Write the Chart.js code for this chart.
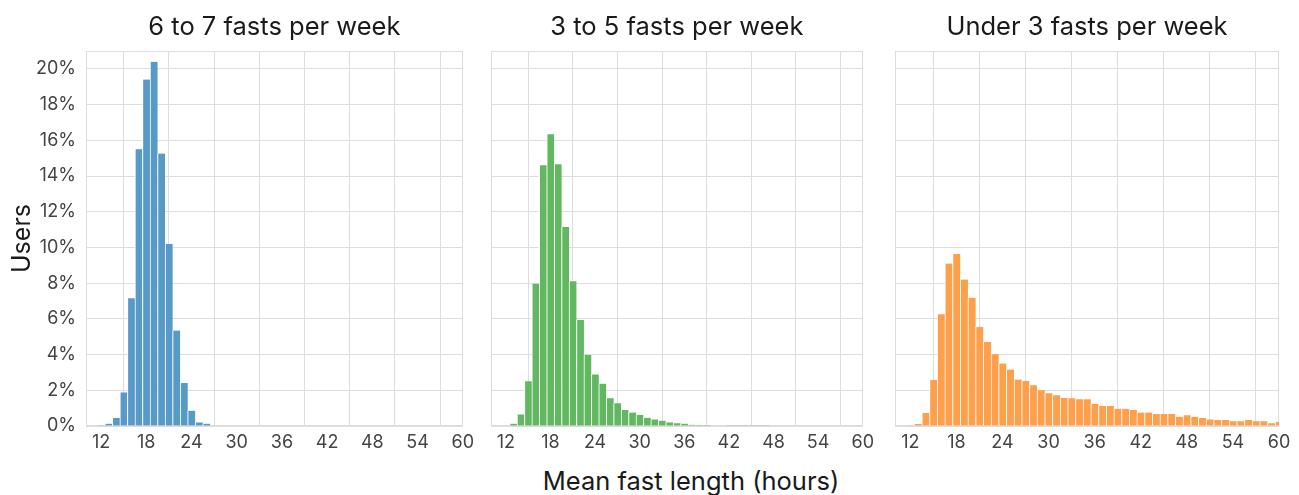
<!DOCTYPE html>
<html><head><meta charset="utf-8">
<script src="https://cdn.jsdelivr.net/npm/chart.js@4.4.1/dist/chart.umd.min.js"></script>
<style>
html,body{margin:0;padding:0;background:#fff;}
body{width:1299px;height:495px;position:relative;overflow:hidden;font-family:Inter,"Noto Sans",sans-serif;}
canvas{position:absolute;top:0;}
#xt{position:absolute;left:441px;width:500px;top:466px;text-align:center;font-size:25.5px;line-height:30px;color:#1a1a1a;}
</style></head>
<body>
<canvas id="c1" width="480" height="462" style="left:0px"></canvas>
<canvas id="c2" width="400" height="462" style="left:480px"></canvas>
<canvas id="c3" width="415" height="462" style="left:884px"></canvas>
<div id="xt">Mean fast length (hours)</div>
<script>
// Bin centres (hours)
const hours = [12,13,14,15,16,17,18,19,20,21,22,23,24,25,26,27,28,29,30,31,32,33,34,35,36,37,38,39,40,41,42,43,44,45,46,47,48,49,50,51,52,53,54,55,56,57,58,59,60];
// Share of users (%) per bin
const sixToSeven = [0.02,0.13,0.45,1.88,7.16,15.5,19.4,20.4,15.26,10.19,5.35,2.41,0.86,0.2,0.13,0.03,0,0,0,0,0,0,0,0,0,0,0,0,0,0,0,0,0,0,0,0,0,0,0,0,0,0,0,0,0,0,0,0,0];
const threeToFive = [0,0.13,0.65,2.5,7.97,14.6,16.34,14.66,11.14,8.1,5.93,3.97,2.89,2.37,1.55,1.27,0.9,0.75,0.63,0.46,0.37,0.3,0.2,0.15,0.13,0.07,0.06,0.05,0.03,0.03,0.02,0.02,0.02,0.01,0.01,0.01,0,0,0,0,0,0,0,0,0,0,0,0,0];
const underThree = [0.04,0.11,0.73,2.58,6.26,9.1,9.63,8.2,7.18,5.55,4.71,4.02,3.5,3.16,2.6,2.52,2.28,2.0,1.83,1.72,1.57,1.55,1.5,1.5,1.23,1.12,1.12,0.97,0.97,0.9,0.75,0.75,0.67,0.67,0.67,0.52,0.6,0.52,0.45,0.37,0.34,0.34,0.26,0.26,0.34,0.26,0.26,0.15,0.22];
const titles = ["6 to 7 fasts per week","3 to 5 fasts per week","Under 3 fasts per week"];
const xTicks = [12,18,24,30,36,42,48,54,60];
const yTicks = [0,2,4,6,8,10,12,14,16,18,20];

const GRID = '#dddddd';
const frame = {
  id:'frame',
  beforeDatasetsDraw(chart){
    const a = chart.chartArea, ctx = chart.ctx;
    ctx.save(); ctx.strokeStyle = GRID; ctx.lineWidth = 1;
    ctx.strokeRect(Math.round(a.left)+0.5, Math.round(a.top)+0.5, Math.round(a.right-a.left)-1, Math.round(a.bottom-a.top)-1);
    ctx.restore();
  }
};

function make(id, values, color, title, showY, yWidth, padRight){
  return new Chart(document.getElementById(id), {
    type:'bar',
    data:{datasets:[{
      data: hours.map((h,i)=>({x:h,y:values[i]})),
      backgroundColor: color,
      borderColor:'#ffffff',
      borderWidth:{left:1,right:0,top:0,bottom:0},
      borderSkipped:false,
      barPercentage:1, categoryPercentage:1
    }]},
    options:{
      responsive:false, animation:false, devicePixelRatio:1,
      layout:{padding:{left:0,right:padRight,top:0,bottom:0}},
      plugins:{
        legend:{display:false}, tooltip:{enabled:false},
        title:{display:true, text:title, fullSize:false, color:'#1a1a1a',
          font:{family:'Inter', size:25.5, weight:'normal', lineHeight:1.2}, padding:{top:11.7,bottom:8.7}}
      },
      scales:{
        x:{type:'linear', min:10, max:60, offset:false,
          grid:{color:GRID, drawTicks:false}, border:{display:false},
          afterBuildTicks:s=>{s.ticks = xTicks.map(v=>({value:v}));},
          afterFit:s=>{s.height = 36;},
          ticks:{color:'#444', padding:6, maxRotation:0, autoSkip:false, font:{family:'Inter', size:18}}
        },
        y:{min:0, max:21,
          grid:{color:GRID, drawTicks:false}, border:{display:false},
          afterBuildTicks:s=>{s.ticks = yTicks.map(v=>({value:v}));},
          afterFit:s=>{s.width = yWidth;},
          title:{display:showY, text:'Users', color:'#1a1a1a', font:{family:'Inter', size:25, weight:'normal'}, padding:{top:7,bottom:0}},
          ticks:{display:showY, color:'#444', padding:10, font:{family:'Inter', size:18}, callback:v=>v+'%'}
        }
      }
    },
    plugins:[frame]
  });
}
make('c1', sixToSeven, '#5799c7', titles[0], true, 86, 10);
make('c2', threeToFive, '#61b861', titles[1], false, 11, 4);
make('c3', underThree, '#ff9f4a', titles[2], false, 11, 20);
</script>
</body></html>
